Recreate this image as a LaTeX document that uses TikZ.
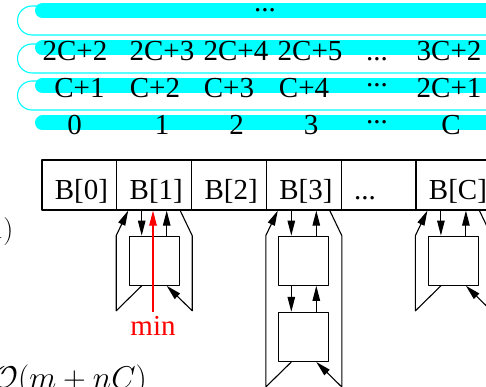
\RequirePackage{fix-cm}
\documentclass[tikz,border=0pt]{standalone}
\usepackage[no-math]{fontspec}
\setmainfont{Liberation Serif}
\usetikzlibrary{arrows.meta,positioning}
\definecolor{aqua}{RGB}{0,255,255}
\newcommand\mydots{...}
\begin{document}
\begin{tikzpicture}[x=1pt, y=-1pt, font=\fontsize{29}{32}\selectfont, line join=round, >={Triangle[length=15pt,width=7.5pt]},
	band/.style={aqua, line width=15pt, line cap=round},
	back/.style={aqua, line width=1.1pt},
	num/.style={anchor=base, inner sep=0pt},
	cell/.style={draw, line width=1.2pt, minimum width=74.8pt, minimum height=50pt, text width=49pt, inner xsep=12.9pt, inner ysep=3pt, align=left, text height=30pt, text depth=2pt},
	elem/.style={draw, line width=1.2pt, minimum width=50pt, minimum height=49pt, inner sep=0pt},
	link/.style={line width=1.1pt}]
	\path[use as bounding box] (0,0) rectangle (486,387);
	\clip (0,0) rectangle (486,387);
	\foreach \y in {35,73,110}
	\draw[back] (520,\y) -- (32,\y) .. controls (24,\y) and (17.5,{\y-6.5}) .. (17.5,{\y-14.5}) .. controls (17.5,{\y-22.5}) and (24,{\y-29}) .. (32,{\y-29}) -- (44,{\y-29});
	\foreach \y in {10.5,48,85.5,123} \draw[band] (42.5,\y) -- (520,\y);
	\node (topdots) at (265,10) {\mydots};
	\foreach \x/\t [count=\k] in {75/2C+2,162/2C+3,236/2C+4,310/2C+5,377/\mydots,449/3C+2}
	\node[num] (c\k) at (\x,61) {\t};
	\foreach \x/\t [count=\k] in {79.5/C+1,155/C+2,229/C+3,304/C+4,449/2C+1}
	\node[num] (b\k) at (\x,98) {\t};
	\node (bdots) at (377,85.5) {\mydots};
	\foreach \x/\t [count=\k] in {74.5/0,162/1,236.5/2,311/3,451/C}
	\node[num] (a\k) at (\x,135) {\t};
	\node (adots) at (377,122.5) {\mydots};
	\foreach \i/\t in {0/B[0],1/B[1],2/B[2],3/B[3],4/\mydots,5/B[C]}
	\node[cell] (B\i) at ({42+74.8*(\i+.5)},185) {\t};
	\node[elem, below=25pt of B1] (e1) {};
	\node[elem, below=25pt of B3] (e3a) {};
	\node[elem, below=26pt of e3a] (e3b) {};
	\node[elem, below=25pt of B5] (e5) {};
	\foreach \c/\f/\l in {1/e1/e1,3/e3a/e3b,5/e5/e5}{
		\draw[link,->] ([xshift=-12.5pt]\f.north |- B\c.south) -- ([xshift=-12.5pt]\f.north);
		\draw[link,->] ([xshift=12.5pt]\f.north) -- ([xshift=12.5pt]\f.north |- B\c.south);
		\draw[link,->] ([xshift=-12.5pt]\l.south) -- ([yshift=-25pt]B\c.west |- \l.south) -- (B\c.west |- \f.north) -- ([xshift=12pt]B\c.south west);
		\draw[link,->] ([xshift=-12pt]B\c.south east) -- (B\c.east |- \f.north) -- ([yshift=-25pt]B\c.east |- \l.south) -- ([xshift=12.5pt]\l.south);
	}
	\draw[link,->] ([xshift=-12.5pt]e3a.south) -- ([xshift=-12.5pt]e3b.north);
	\draw[link,->] ([xshift=12.5pt]e3b.north) -- ([xshift=12.5pt]e3a.south);
	\node[red, anchor=base, inner sep=4pt] (min) at (153,335) {min};
	\draw[link,red,->] (min.north) -- (min.north |- B1.south);
	\node[anchor=base east, inner sep=0pt, font=\fontsize{28}{30}\selectfont] (f1) at (13.5,238) {$1)$};
	\node[anchor=base east, inner sep=0pt, font=\fontsize{31.5}{34}\selectfont] (cost) at (147,388.5) {$\mathcal{O}(m+nC)$};
\end{tikzpicture}
\end{document}
